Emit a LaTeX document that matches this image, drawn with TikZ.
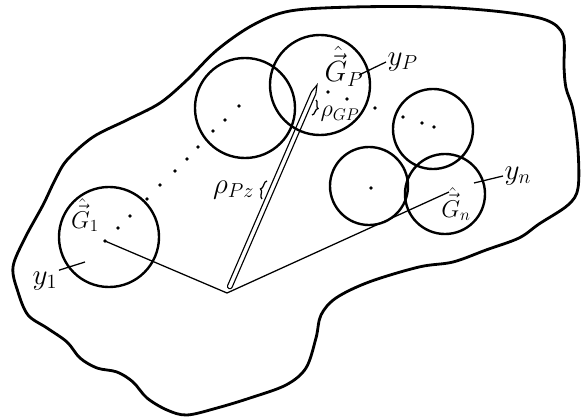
\documentclass[tikz,border=0pt]{standalone}
\usepackage{amsmath,amssymb}
\usepackage{tikz}
\usetikzlibrary{calc,positioning,decorations.pathreplacing}

\begin{document}
\begin{tikzpicture}[x=0.025cm, y=-0.025cm,
  sfera/.style={draw, circle, line width=1.7pt, inner sep=0pt, minimum size=#1},
  etich/.style={inner sep=1pt, font=\huge},
  etichp/.style={inner sep=1pt, font=\LARGE},
  guida/.style={line width=0.9pt},
  graffa/.style={line width=0.9pt, decorate, decoration={brace, amplitude=3pt}}]

\useasboundingbox (0,0) rectangle (586,420);

% Regione con le sfere
\draw[line width=2pt, line join=round] plot[smooth cycle, tension=0.55] coordinates {
  (13,267) (25,238) (43,205) (55,180) (67,160) (93,137) (127,120) (160,103)
  (187,80) (217,50) (253,25) (290,11) (353,7) (436,7) (503,12) (546,20)
  (563,35) (564,67) (566,88) (573,110) (578,150) (578,188) (568,205) (539,224)
  (519,238) (486,250) (453,262) (419,267) (369,282) (336,298) (321,315) (316,338)
  (306,368) (286,385) (250,398) (217,408) (187,415) (167,410) (147,398) (133,382)
  (117,372) (97,368) (80,358) (67,342) (47,328) (28,315) (18,292)};

\node[sfera=2.5cm] (c1) at (109,237) {};
\node[sfera=2.5cm] (c2) at (245,108) {};
\node[sfera=2.5cm] (cp) at (320,85) {};
\node[sfera=2cm] (cr) at (433,129) {};
\node[sfera=1.95cm] (cq) at (369,186) {};
\node[sfera=2cm] (cn) at (445,194) {};

\coordinate (O) at (227,293);
\coordinate (g1) at (105,241);
\coordinate (gn) at (449,192);

\draw[guida] (g1) -- (O) -- (gn);

% Ago
\begin{scope}[shift={(O)}, rotate=66.6, x=1cm, y=1cm]
\draw[line width=0.8pt] (0.18,0.06) -- (5.45,0.06) -- (5.666,0) -- (5.45,-0.06)
  -- (0.18,-0.06) arc (270:90:0.06) -- cycle;
\end{scope}

\foreach \p in {(239,106),(225,120),(213,131),(198,147),(187,159),(175,171),
  (160,185),(147,199),(130,216),(118,228),(105,241),(328,92),(347,99),(375,108),
  (403,117),(422,123),(434,127),(371,188)}
  \fill \p circle (1.4pt);

% Etichette
\node[etichp] (G1) at (85,215) {$\hat{\vec{G}}_1$};
\node[etich] (y1) at (45,281) {$y_1$};
\coordinate (t1) at (85,262);
\draw[guida] (y1.north east) -- (t1);

\node[etich] (Gp) at (344,66) {$\hat{\vec{G}}_P$};
\node[etich, anchor=west] (yp) at (386,62) {$y_P$};
\coordinate (tp) at (359,75);
\draw[guida] (tp) -- (yp.west);

\node[etich, anchor=west] (yn) at (503,176) {$y_n$};
\coordinate (tn) at (474,183);
\draw[guida] (tn) -- (yn.west);

\node[etichp] (Gn) at (456,204) {$\hat{\vec{G}}_n$};

\coordinate (bz1) at (262,199);
\coordinate (bz2) at (267,181);
\draw[graffa] (bz1) -- (bz2);
\coordinate (bg1) at (316,100);
\coordinate (bg2) at (312,115);
\draw[graffa] (bg1) -- (bg2);

\node[etichp, anchor=west] (rgp) at (319,114) {$\rho_{GP}$};
\node[etich, anchor=east] (rpz) at (256,190) {$\rho_{Pz}$};

\end{tikzpicture}
\end{document}
